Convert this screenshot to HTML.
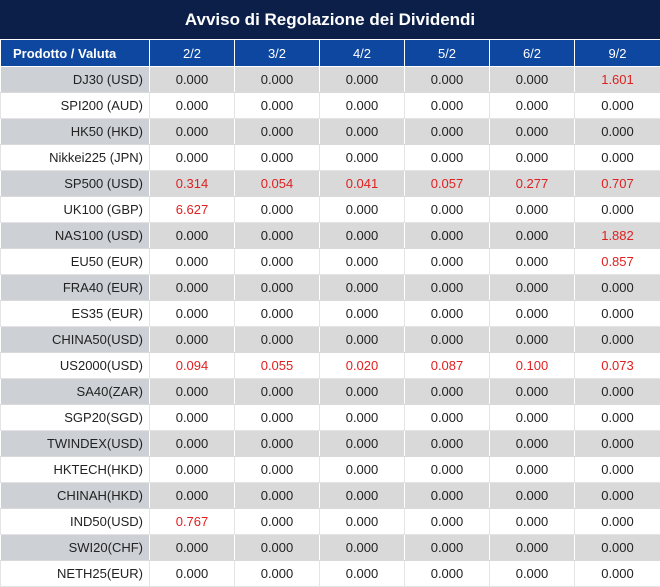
<!DOCTYPE html>
<html><head><meta charset="utf-8"><style>
body{margin:0;width:660px;height:587px;overflow:hidden;background:#fff;font-family:"Liberation Sans","DejaVu Sans",sans-serif;}
.t{position:absolute;left:0;top:0;width:660px;height:39px;background:#0b1f48;color:#fff;font-size:17px;font-weight:bold;text-align:center;line-height:39px;}
table{position:absolute;left:0;top:40px;border-collapse:collapse;table-layout:fixed;width:660px;}
td,th{height:25px;padding:0;font-size:13px;text-align:center;border:1px solid #e4e4e4;border-top:0;color:#222;}
th{background:#0e47a0;color:#fff;font-weight:normal;border-color:#fff;height:26px;}
th:first-child{font-weight:bold;text-align:left;padding-left:12px;}
td:first-child{text-align:right;padding-right:6px;}
tr.g td{background:#d9d9d9;border-color:#d9d9d9 #fff;}
tr.g td:first-child{background:#cdd1d6;}
.r{color:#e02020;}
</style></head><body>
<div class="t">Avviso di Regolazione dei Dividendi</div>
<table>
<colgroup><col style="width:149px"><col style="width:85px"><col style="width:85px"><col style="width:85px"><col style="width:85px"><col style="width:85px"><col style="width:86px"></colgroup>
<tr><th>Prodotto / Valuta</th><th>2/2</th><th>3/2</th><th>4/2</th><th>5/2</th><th>6/2</th><th>9/2</th></tr>
<tr class="g"><td>DJ30 (USD)</td><td>0.000</td><td>0.000</td><td>0.000</td><td>0.000</td><td>0.000</td><td class="r">1.601</td></tr>
<tr><td>SPI200 (AUD)</td><td>0.000</td><td>0.000</td><td>0.000</td><td>0.000</td><td>0.000</td><td>0.000</td></tr>
<tr class="g"><td>HK50 (HKD)</td><td>0.000</td><td>0.000</td><td>0.000</td><td>0.000</td><td>0.000</td><td>0.000</td></tr>
<tr><td>Nikkei225 (JPN)</td><td>0.000</td><td>0.000</td><td>0.000</td><td>0.000</td><td>0.000</td><td>0.000</td></tr>
<tr class="g"><td>SP500 (USD)</td><td class="r">0.314</td><td class="r">0.054</td><td class="r">0.041</td><td class="r">0.057</td><td class="r">0.277</td><td class="r">0.707</td></tr>
<tr><td>UK100 (GBP)</td><td class="r">6.627</td><td>0.000</td><td>0.000</td><td>0.000</td><td>0.000</td><td>0.000</td></tr>
<tr class="g"><td>NAS100 (USD)</td><td>0.000</td><td>0.000</td><td>0.000</td><td>0.000</td><td>0.000</td><td class="r">1.882</td></tr>
<tr><td>EU50 (EUR)</td><td>0.000</td><td>0.000</td><td>0.000</td><td>0.000</td><td>0.000</td><td class="r">0.857</td></tr>
<tr class="g"><td>FRA40 (EUR)</td><td>0.000</td><td>0.000</td><td>0.000</td><td>0.000</td><td>0.000</td><td>0.000</td></tr>
<tr><td>ES35 (EUR)</td><td>0.000</td><td>0.000</td><td>0.000</td><td>0.000</td><td>0.000</td><td>0.000</td></tr>
<tr class="g"><td>CHINA50(USD)</td><td>0.000</td><td>0.000</td><td>0.000</td><td>0.000</td><td>0.000</td><td>0.000</td></tr>
<tr><td>US2000(USD)</td><td class="r">0.094</td><td class="r">0.055</td><td class="r">0.020</td><td class="r">0.087</td><td class="r">0.100</td><td class="r">0.073</td></tr>
<tr class="g"><td>SA40(ZAR)</td><td>0.000</td><td>0.000</td><td>0.000</td><td>0.000</td><td>0.000</td><td>0.000</td></tr>
<tr><td>SGP20(SGD)</td><td>0.000</td><td>0.000</td><td>0.000</td><td>0.000</td><td>0.000</td><td>0.000</td></tr>
<tr class="g"><td>TWINDEX(USD)</td><td>0.000</td><td>0.000</td><td>0.000</td><td>0.000</td><td>0.000</td><td>0.000</td></tr>
<tr><td>HKTECH(HKD)</td><td>0.000</td><td>0.000</td><td>0.000</td><td>0.000</td><td>0.000</td><td>0.000</td></tr>
<tr class="g"><td>CHINAH(HKD)</td><td>0.000</td><td>0.000</td><td>0.000</td><td>0.000</td><td>0.000</td><td>0.000</td></tr>
<tr><td>IND50(USD)</td><td class="r">0.767</td><td>0.000</td><td>0.000</td><td>0.000</td><td>0.000</td><td>0.000</td></tr>
<tr class="g"><td>SWI20(CHF)</td><td>0.000</td><td>0.000</td><td>0.000</td><td>0.000</td><td>0.000</td><td>0.000</td></tr>
<tr><td>NETH25(EUR)</td><td>0.000</td><td>0.000</td><td>0.000</td><td>0.000</td><td>0.000</td><td>0.000</td></tr>
</table>
</body></html>
